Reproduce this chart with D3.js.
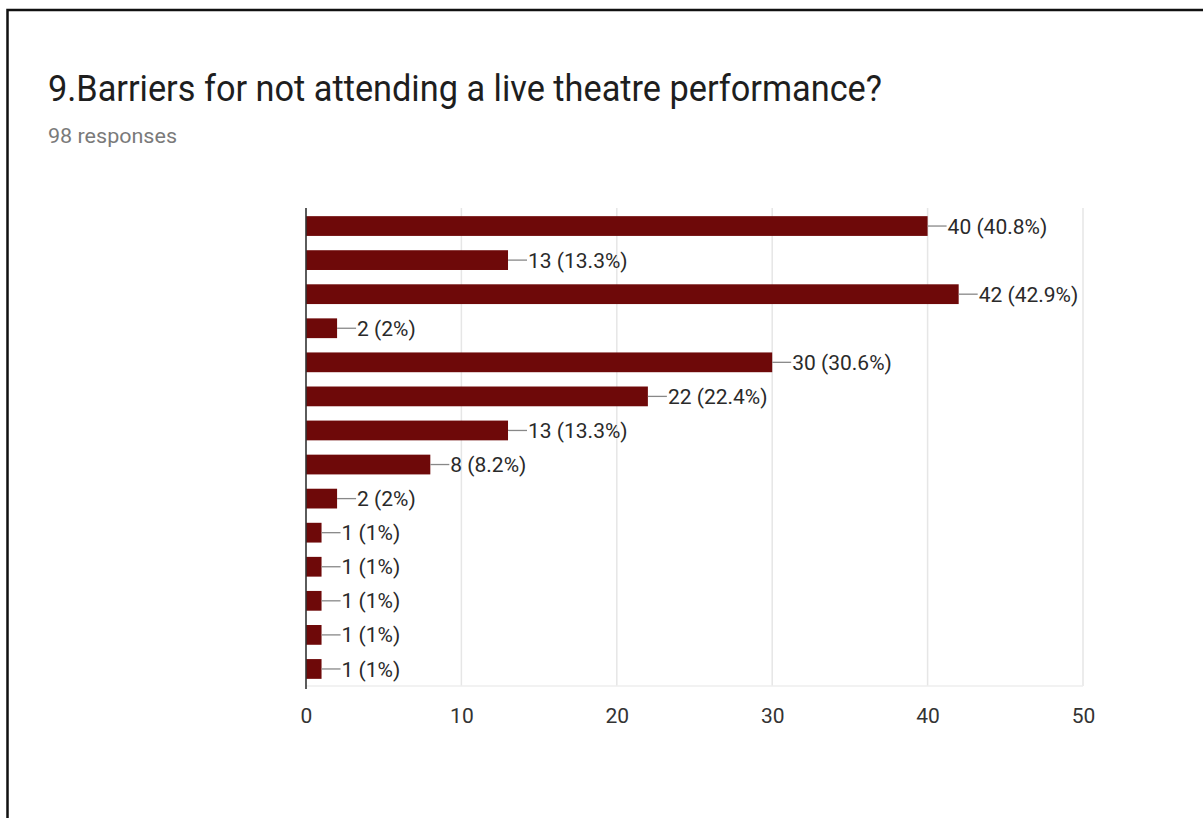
<!DOCTYPE html>
<html>
<head>
<meta charset="utf-8">
<script src="https://cdn.jsdelivr.net/npm/d3@7"></script>
<style>
  html, body { margin: 0; padding: 0; background: #fff; }
  svg { display: block; font-family: Roboto, Arial, sans-serif; }
</style>
</head>
<body>
<svg id="chart" width="1203" height="818"></svg>
<script>
// Survey answers: counts per option and the share they represent (98 responses)
const options = ["o1","o2","o3","o4","o5","o6","o7","o8","o9","o10","o11","o12","o13","o14"];
const counts = [40, 13, 42, 2, 30, 22, 13, 8, 2, 1, 1, 1, 1, 1];
const shares = ["40.8%", "13.3%", "42.9%", "2%", "30.6%", "22.4%", "13.3%", "8.2%", "2%", "1%", "1%", "1%", "1%", "1%"];
const xTicks = [0, 10, 20, 30, 40, 50];

const title = "9.Barriers for not attending a live theatre performance?";
const subtitle = "98 responses";

const svg = d3.select("#chart");

// outer frame
svg.append("rect")
  .attr("x", 7.5).attr("y", 10)
  .attr("width", 1210).attr("height", 830)
  .attr("fill", "none").attr("stroke", "#111").attr("stroke-width", 2.5);

svg.append("text")
  .attr("x", 48).attr("y", 101)
  .attr("font-size", 36).attr("fill", "#1e1e1e")
  .attr("textLength", 834).attr("lengthAdjust", "spacingAndGlyphs")
  .text(title);

svg.append("text")
  .attr("x", 48).attr("y", 143)
  .attr("font-size", 21).attr("fill", "#7a7a7a")
  .attr("textLength", 129).attr("lengthAdjust", "spacingAndGlyphs")
  .text(subtitle);

const plotLeft = 306, plotRight = 1083, plotTop = 209, plotBottom = 686;

const x = d3.scaleLinear().domain([0, 50]).range([plotLeft, plotRight]);
const y = d3.scaleBand().domain(options).range([plotTop, plotBottom]).paddingInner(0.42).paddingOuter(0.21);

// vertical gridlines
svg.append("g").selectAll("line")
  .data(xTicks.filter(t => t > 0))
  .join("line")
  .attr("x1", d => x(d)).attr("x2", d => x(d))
  .attr("y1", plotTop - 1).attr("y2", plotBottom)
  .attr("stroke", "#e6e6e6").attr("stroke-width", 1.5);

// bottom grid edge
svg.append("line")
  .attr("x1", plotLeft).attr("x2", plotRight)
  .attr("y1", plotBottom).attr("y2", plotBottom)
  .attr("stroke", "#eeeeee").attr("stroke-width", 1.5);

// bars
svg.append("g").selectAll("rect")
  .data(counts)
  .join("rect")
  .attr("x", x(0))
  .attr("y", (d, i) => y(options[i]))
  .attr("width", d => x(d) - x(0))
  .attr("height", y.bandwidth())
  .attr("fill", "#6e0909");

// leader lines and value labels
const lab = svg.append("g");
counts.forEach((d, i) => {
  const cy = y(options[i]) + y.bandwidth() / 2;
  const x0 = x(d);
  lab.append("line")
    .attr("x1", x0).attr("x2", x0 + 19)
    .attr("y1", cy).attr("y2", cy)
    .attr("stroke", "#888").attr("stroke-width", 1.3);
  lab.append("text")
    .attr("x", x0 + 20).attr("y", cy)
    .attr("dy", "0.36em")
    .attr("font-size", 21).attr("fill", "#2a2a2a")
    .text(`${d} (${shares[i]})`);
});

// x axis labels
const axis = d3.axisBottom(x).tickValues(xTicks).tickSize(0).tickPadding(0);
const gx = svg.append("g")
  .attr("transform", `translate(0, ${plotBottom})`)
  .call(axis);
gx.select(".domain").remove();
gx.selectAll("text")
  .attr("font-family", "Roboto, Arial, sans-serif")
  .attr("font-size", 21).attr("fill", "#333")
  .attr("y", 30).attr("dy", "0.35em");

// baseline at zero
svg.append("line")
  .attr("x1", plotLeft).attr("x2", plotLeft)
  .attr("y1", plotTop - 1).attr("y2", plotBottom + 3)
  .attr("stroke", "#333").attr("stroke-width", 1.6);
</script>
</body>
</html>
